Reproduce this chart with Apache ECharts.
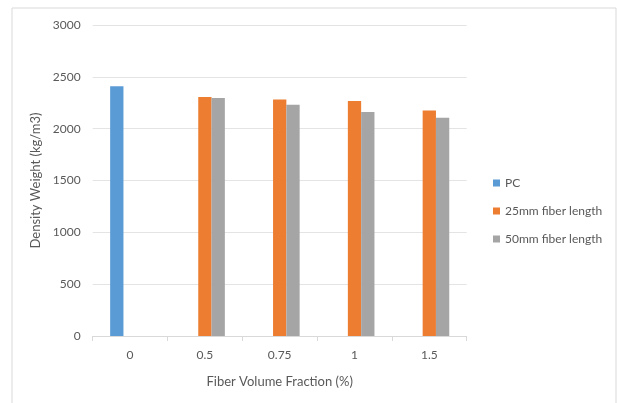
<!DOCTYPE html>
<html>
<head>
<meta charset="utf-8">
<script src="https://cdn.jsdelivr.net/npm/echarts@6/dist/echarts.min.js"></script>
<style>html,body{margin:0;padding:0;background:#fff;}#c{width:618px;height:403px;}</style>
</head>
<body>
<div id="c"></div>
<script>
const categories = ['0', '0.5', '0.75', '1', '1.5'];
const pcValues = [2410, null, null, null, null];
const fiber25Values = [null, 2305, 2282, 2266, 2176];
const fiber50Values = [null, 2295, 2230, 2160, 2105];
const yTicks = [0, 500, 1000, 1500, 2000, 2500, 3000];
const seriesNames = ['PC', '25mm fiber length', '50mm fiber length'];

const FONT = 'Lato, "Open Sans", sans-serif';
const TXT = '#595959';
const chart = echarts.init(document.getElementById('c'), null, {renderer: 'canvas'});
const mk = (name, data, color) => ({
  name, type: 'bar', data, barWidth: 13.3, barGap: '0%',
  itemStyle: {color}, emphasis: {disabled: true}
});
chart.setOption({
  animation: false,
  backgroundColor: '#fff',
  graphic: [{
    type: 'rect', shape: {x: 12, y: 8, width: 604, height: 400},
    style: {fill: 'none', stroke: '#d9d9d9', lineWidth: 1}, silent: true
  }],
  grid: {left: 92.7, right: 618 - 466.7, top: 25, bottom: 403 - 336, containLabel: false},
  legend: {
    orient: 'vertical', left: 488, top: 172, itemGap: 16,
    itemWidth: 7, itemHeight: 7, icon: 'rect',
    textStyle: {color: TXT, fontFamily: FONT, fontSize: 12},
    data: seriesNames
  },
  xAxis: {
    type: 'category', data: categories,
    name: 'Fiber Volume Fraction (%)', nameLocation: 'middle', nameGap: 39,
    nameTextStyle: {color: TXT, fontFamily: FONT, fontSize: 13},
    axisLine: {lineStyle: {color: '#d9d9d9'}},
    axisTick: {show: true, length: 5, lineStyle: {color: '#d9d9d9'}},
    axisLabel: {color: TXT, fontFamily: FONT, fontSize: 12, margin: 13}
  },
  yAxis: {
    type: 'value', min: yTicks[0], max: yTicks[yTicks.length - 1], interval: 500,
    name: 'Density Weight (kg/m3)', nameLocation: 'middle', nameGap: 43, nameRotate: 90,
    nameTextStyle: {color: TXT, fontFamily: FONT, fontSize: 13},
    axisLine: {show: false}, axisTick: {show: false},
    splitLine: {lineStyle: {color: '#e4e4e4'}},
    axisLabel: {color: TXT, fontFamily: FONT, fontSize: 12, margin: 12, formatter: v => String(v)}
  },
  series: [
    mk(seriesNames[0], pcValues, '#5b9bd5'),
    mk(seriesNames[1], fiber25Values, '#ed7d31'),
    mk(seriesNames[2], fiber50Values, '#a5a5a5')
  ]
});
</script>
</body>
</html>
